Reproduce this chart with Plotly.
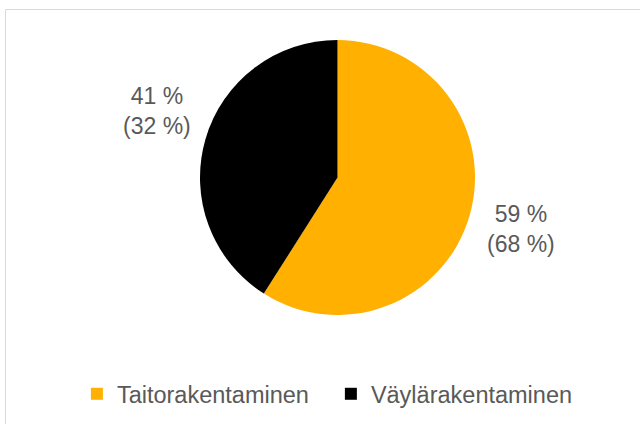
import plotly.graph_objects as go

categories = ["Taitorakentaminen", "Väylärakentaminen"]
shares = [59, 41]
comparison = [68, 32]
colors = ["#FFB000", "#000000"]

W, H = 640, 424
FONT = "Liberation Sans, Arial, sans-serif"
GRAY = "#595959"

fig = go.Figure()
fig.add_trace(go.Pie(
    labels=categories,
    values=shares,
    sort=False,
    direction="clockwise",
    rotation=0,
    marker=dict(colors=colors, line=dict(width=0)),
    textinfo="none",
    hoverinfo="label+percent",
    domain=dict(x=[200 / W, 475 / W], y=[(H - 315) / H, (H - 40) / H]),
))

label_pos = [(521 / W, 1 - 229 / H), (156.5 / W, 1 - 111 / H)]
for (x, y), s, c in zip(label_pos, shares, comparison):
    fig.add_annotation(
        x=x, y=y, xref="paper", yref="paper",
        text=f"{s} %<br>({c} %)", showarrow=False,
        font=dict(family=FONT, size=23, color=GRAY),
        xanchor="center", yanchor="middle",
    )

fig.add_shape(
    type="rect", xref="paper", yref="paper",
    x0=5.5 / W, x1=1.2, y0=-0.2, y1=1 - 9.5 / H,
    line=dict(color="#D9D9D9", width=1), fillcolor="rgba(0,0,0,0)",
    layer="below",
)

fig.update_layout(
    width=W, height=H,
    margin=dict(l=0, r=0, t=0, b=0),
    paper_bgcolor="white",
    plot_bgcolor="white",
    showlegend=True,
    legend=dict(
        orientation="h",
        x=0.517, xanchor="center",
        y=1 - 394 / H, yanchor="middle",
        font=dict(family=FONT, size=23.5, color=GRAY),
        entrywidth=209,
        itemclick=False,
    ),
)

fig.write_html("out.html")
